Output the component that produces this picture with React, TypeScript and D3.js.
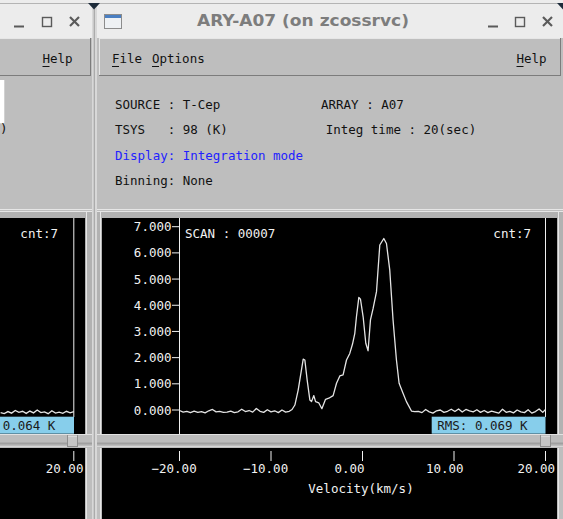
import React from 'react';
import * as d3 from 'd3';

// ---------- data ----------
const velocity = [
  -20.0, -19.6, -19.2, -18.8, -18.4, -18.0, -17.6, -17.2, -16.8, -16.4, -16.0, -15.6, -15.2, -14.8, -14.4, -14.0,
  -13.6, -13.2, -12.8, -12.4, -12.0, -11.6, -11.2, -10.8, -10.4, -10.0, -9.6, -9.2, -8.8, -8.4, -8.0, -7.7,
  -7.39, -7.03, -6.48, -6.30, -6.05, -5.75, -5.57, -5.32, -5.13, -4.77, -4.44, -4.04, -3.68, -3.21, -2.84, -2.48,
  -2.12, -1.75, -1.39, -1.09, -0.84, -0.66, -0.40, -0.22, 0.07, 0.36, 0.61, 0.87, 1.16, 1.53, 1.89, 2.33, 2.62,
  2.98, 3.34, 3.71, 4.00, 4.43, 4.80,
  5.35, 5.7, 6.1, 6.5, 6.9, 7.3, 7.7, 8.1, 8.5, 8.9, 9.3, 9.7, 10.1, 10.5, 10.9, 11.3, 11.7, 12.1, 12.5, 12.9,
  13.3, 13.7, 14.1, 14.5, 14.9, 15.3, 15.7, 16.1, 16.5, 16.9, 17.3, 17.7, 18.1, 18.5, 18.9, 19.3, 19.7, 20.0,
];
const temperature = [
  -0.02, -0.08, -0.05, -0.10, -0.04, -0.09, -0.06, -0.11, -0.03, 0.02, -0.07, -0.05, -0.09, -0.08, -0.04, -0.10,
  -0.07, 0.03, -0.06, -0.02, -0.08, 0.06, -0.05, -0.09, 0.01, -0.07, -0.03, -0.10, 0.00, -0.08, -0.05, 0.02,
  0.19, 0.76, 1.94, 1.91, 1.15, 0.38, 0.32, 0.55, 0.32, 0.27, 0.05, 0.41, 0.45, 0.55, 1.02, 1.30,
  1.34, 1.91, 2.16, 2.52, 2.93, 3.56, 4.30, 4.23, 3.56, 2.55, 2.26, 3.44, 3.88, 4.52, 6.30, 6.55, 6.36,
  5.34, 3.44, 1.91, 1.02, 0.64, 0.32,
  -0.04, -0.06, -0.05, -0.10, 0.02, -0.07, -0.12, -0.03, 0.00, -0.09, -0.05, 0.03, -0.06, 0.04, -0.08, 0.02,
  -0.03, -0.07, 0.01, -0.09, -0.02, -0.10, -0.04, -0.08, -0.12, 0.03, -0.09, -0.05, -0.11, 0.00, -0.07, -0.10,
  0.01, -0.12, -0.06, 0.04, -0.09, 0.02,
];
const leftVelocity = [12.0, 12.4, 12.8, 13.2, 13.6, 14.0, 14.4, 14.8, 15.2, 15.6, 16.0, 16.4, 16.8, 17.2, 17.6, 18.0, 18.4, 18.8, 19.2, 19.6, 20.0];
const leftTemperature = [-0.10, -0.14, -0.06, -0.12, -0.02, -0.09, -0.05, -0.13, -0.04, -0.11, 0.00, -0.10, -0.07, -0.14, -0.03, -0.12, -0.08, -0.13, -0.05, -0.11, -0.06];

const xTickValues = [-20, -10, 0, 10, 20];
const yTickValues = [0, 1, 2, 3, 4, 5, 6, 7];

const titleText = 'ARY-A07 (on zcossrvc)';
const scanLabel = 'SCAN : 00007';
const cntLabel = 'cnt:7';
const rmsLabel = 'RMS: 0.069 K';
const leftRmsLabel = '0.064 K';
const xAxisTitle = 'Velocity(km/s)';
const infoLeft = ['SOURCE : T-Cep', 'TSYS   : 98 (K)', 'Display: Integration mode', 'Binning: None'];
const infoRight = ['ARRAY : A07', 'Integ time : 20(sec)'];

// ---------- styles ----------
const MONO = "'DejaVu Sans Mono', 'Liberation Mono', monospace";
const FS = 12.5;
const BG = '#bebebe';
const LIGHT = '#e6e6e6';
const DARK = '#7c7c7c';
const TXT = '#f2f2f2';

export default function App() {
  const x = d3.scaleLinear().domain([-20, 20]).range([179.5, 545.5]);
  const y = d3.scaleLinear().domain([0, 7]).range([410, 226.7]);
  const xL = d3.scaleLinear().domain([-20, 20]).range([73.8 - 366, 73.8]);

  const line = d3.line<number>().x((_, i) => x(velocity[i])).y((d) => y(d));
  const lineL = d3.line<number>().x((_, i) => xL(leftVelocity[i])).y((d) => y(d));
  const fmtX = d3.format('.2f');
  const fmtY = d3.format('.3f');

  const menuItem = (label: string, xx: number) => (
    <g key={label + xx}>
      <text x={xx} y={63} fontFamily={MONO} fontSize={FS} fill="#111">{label}</text>
      <line x1={xx} x2={xx + 7} y1={66.5} y2={66.5} stroke="#111" strokeWidth={1} />
    </g>
  );

  return (
    <svg width={563} height={519} style={{ position: 'absolute', left: 0, top: 0 }} xmlns="http://www.w3.org/2000/svg">
      <rect x={0} y={0} width={563} height={519} fill={BG} />

      {/* title bar */}
      <rect x={0} y={0} width={563} height={38} fill="#ececec" />
      <line x1={0} x2={563} y1={3.5} y2={3.5} stroke="#b4b4b4" strokeWidth={1} />
      <text x={303} y={26} textAnchor="middle" fontFamily="'DejaVu Sans', sans-serif" fontWeight="bold" fontSize={16} fill="#7d7d7d" textLength={212} lengthAdjust="spacingAndGlyphs">{titleText}</text>
      {/* window icon */}
      <rect x={104.5} y={14.5} width={17} height={14} fill="#eef1f4" stroke="#8c8c8c" />
      <rect x={105} y={15} width={16} height={3} fill="#4a7fc2" />
      {/* window buttons */}
      {[[14, 42, 70], [488, 515, 543]].map((b, i) => (
        <g key={i} stroke="#5a5a5a" fill="none">
          <line x1={b[0]} x2={b[0] + 10} y1={26.5} y2={26.5} strokeWidth={2} />
          <rect x={b[1] + 0.5} y={17.5} width={9} height={9} strokeWidth={1.4} />
          <line x1={b[2]} x2={b[2] + 9} y1={17} y2={26} strokeWidth={2.2} />
          <line x1={b[2] + 9} x2={b[2]} y1={17} y2={26} strokeWidth={2.2} />
        </g>
      ))}

      {/* menu bars */}
      <rect x={-2} y={38} width={93} height={38} fill={BG} />
      <line x1={-2} x2={91} y1={38.5} y2={38.5} stroke={LIGHT} />
      <line x1={-2} x2={91} y1={75.5} y2={75.5} stroke={DARK} />
      <line x1={90.5} x2={90.5} y1={38} y2={76} stroke={DARK} />
      <rect x={99} y={38} width={462} height={38} fill={BG} />
      <line x1={99} x2={561} y1={38.5} y2={38.5} stroke={LIGHT} />
      <line x1={99.5} x2={99.5} y1={38} y2={76} stroke={LIGHT} />
      <line x1={99} x2={561} y1={75.5} y2={75.5} stroke={DARK} />
      <line x1={560.5} x2={560.5} y1={38} y2={76} stroke={DARK} />
      {menuItem('Help', 42.5)}
      {menuItem('File', 112)}
      {menuItem('Options', 152)}
      {menuItem('Help', 516.5)}

      {/* info panel */}
      <rect x={0} y={80} width={4.3} height={43.3} fill="#ffffff" />
      <text x={0} y={133} fontFamily={MONO} fontSize={FS} fill="#111">)</text>
      {infoLeft.map((t, i) => (
        <text key={t} x={115} y={109 + i * 25.3} fontFamily={MONO} fontSize={FS} fill={i === 2 ? '#2222ff' : '#111'} xmlSpace="preserve" style={{ whiteSpace: 'pre' }}>{t}</text>
      ))}
      <text x={321} y={109} fontFamily={MONO} fontSize={FS} fill="#111">{infoRight[0]}</text>
      <text x={325.7} y={134.3} fontFamily={MONO} fontSize={FS} fill="#111">{infoRight[1]}</text>
      <line x1={97} x2={563} y1={209.5} y2={209.5} stroke={LIGHT} />
      <line x1={0} x2={92} y1={209.5} y2={209.5} stroke={LIGHT} />

      {/* plot frames */}
      <rect x={0} y={211} width={92} height={237} fill="#b2b2b2" />
      <rect x={97} y={211} width={466} height={237} fill="#b2b2b2" />
      <line x1={0} x2={92} y1={211.5} y2={211.5} stroke={LIGHT} />
      <line x1={97} x2={563} y1={211.5} y2={211.5} stroke={LIGHT} />
      <line x1={100.5} x2={100.5} y1={212} y2={434} stroke={LIGHT} />
      <line x1={86.5} x2={86.5} y1={212} y2={434} stroke={LIGHT} />
      <line x1={558.5} x2={558.5} y1={212} y2={434} stroke={LIGHT} />
      <rect x={102} y={218} width={455} height={216} fill="#000" />
      <rect x={0} y={218} width={85} height={216} fill="#000" />

      {/* right plot content */}
      <line x1={x(-20)} x2={x(-20)} y1={218} y2={434} stroke="#f0f0f0" strokeWidth={1} />
      <line x1={x(20)} x2={x(20)} y1={218} y2={417} stroke="#f0f0f0" strokeWidth={1} />
      {yTickValues.map((v) => (
        <g key={v}>
          <line x1={x(-20) - 7.5} x2={x(-20)} y1={y(v)} y2={y(v)} stroke={TXT} strokeWidth={1} />
          <text x={x(-20) - 8} y={y(v) + 4.5} textAnchor="end" fontFamily={MONO} fontSize={FS} fill={TXT}>{fmtY(v)}</text>
        </g>
      ))}
      <text x={185} y={237.5} fontFamily={MONO} fontSize={FS} fill={TXT}>{scanLabel}</text>
      <text x={531} y={237.5} textAnchor="end" fontFamily={MONO} fontSize={FS} fill={TXT}>{cntLabel}</text>
      <path d={line(temperature) || ''} fill="none" stroke="#e4e4e4" strokeWidth={1.3} strokeLinejoin="round" />
      <rect x={431.7} y={416.7} width={113.8} height={17} fill="#87ceeb" />
      <text x={437.3} y={429.5} fontFamily={MONO} fontSize={FS} fill="#1a1a1a">{rmsLabel}</text>

      {/* left plot content */}
      <line x1={73.8} x2={73.8} y1={218} y2={417} stroke="#f0f0f0" strokeWidth={1} />
      <text x={58} y={237.5} textAnchor="end" fontFamily={MONO} fontSize={FS} fill={TXT}>{cntLabel}</text>
      <path d={lineL(leftTemperature) || ''} fill="none" stroke="#e4e4e4" strokeWidth={1.3} />
      <rect x={0} y={416.7} width={74} height={17} fill="#87ceeb" />
      <text x={2.7} y={429.5} fontFamily={MONO} fontSize={FS} fill="#1a1a1a">{leftRmsLabel}</text>

      {/* horizontal separator band */}
      <rect x={0} y={434} width={563} height={14} fill="#bcbcbc" />
      <line x1={0} x2={563} y1={434.5} y2={434.5} stroke="#e2e2e2" />
      <line x1={0} x2={563} y1={443.5} y2={443.5} stroke="#a0a0a0" strokeWidth={2} />
      <line x1={0} x2={563} y1={446.5} y2={446.5} stroke="#d6d6d6" />
      <rect x={540.5} y={435.5} width={10} height={11} fill="#c6c6c6" stroke="#8e8e8e" />
      <line x1={541} x2={550} y1={436} y2={436} stroke="#ececec" />
      <rect x={67.5} y={435.5} width={10} height={11} fill="#c6c6c6" stroke="#8e8e8e" />
      <line x1={68} x2={77} y1={436} y2={436} stroke="#ececec" />

      {/* bottom panels */}
      <rect x={102} y={448} width={455} height={80} fill="#000" />
      <rect x={0} y={448} width={85} height={80} fill="#000" />
      <line x1={86.5} x2={86.5} y1={448} y2={519} stroke={LIGHT} />
      <line x1={100.5} x2={100.5} y1={448} y2={519} stroke={LIGHT} />
      <line x1={558.5} x2={558.5} y1={448} y2={519} stroke={LIGHT} />
      {xTickValues.map((v) => (
        <g key={v}>
          <line x1={x(v)} x2={x(v)} y1={451} y2={461} stroke={TXT} strokeWidth={1} />
          <text x={x(v) - 28} y={473} fontFamily={MONO} fontSize={FS} fill={TXT}>{fmtX(v)}</text>
        </g>
      ))}
      <text x={361} y={492.5} textAnchor="middle" fontFamily={MONO} fontSize={FS} fill={TXT}>{xAxisTitle}</text>
      <line x1={73.8} x2={73.8} y1={451} y2={461} stroke={TXT} strokeWidth={1} />
      <text x={73.8 - 28} y={473} fontFamily={MONO} fontSize={FS} fill={TXT}>{fmtX(20)}</text>

      {/* window divider */}
      <rect x={92} y={3} width={5} height={516} fill="#d8d8d8" />
      <line x1={94.3} x2={94.3} y1={3} y2={519} stroke="#a6a6a6" strokeWidth={1.2} />
      <polygon points="88,3 100,3 94,9.5" fill="#1d2b3a" />
      <polygon points="557,3 569,3 563,9.5" fill="#1d2b3a" />
    </svg>
  );
}
